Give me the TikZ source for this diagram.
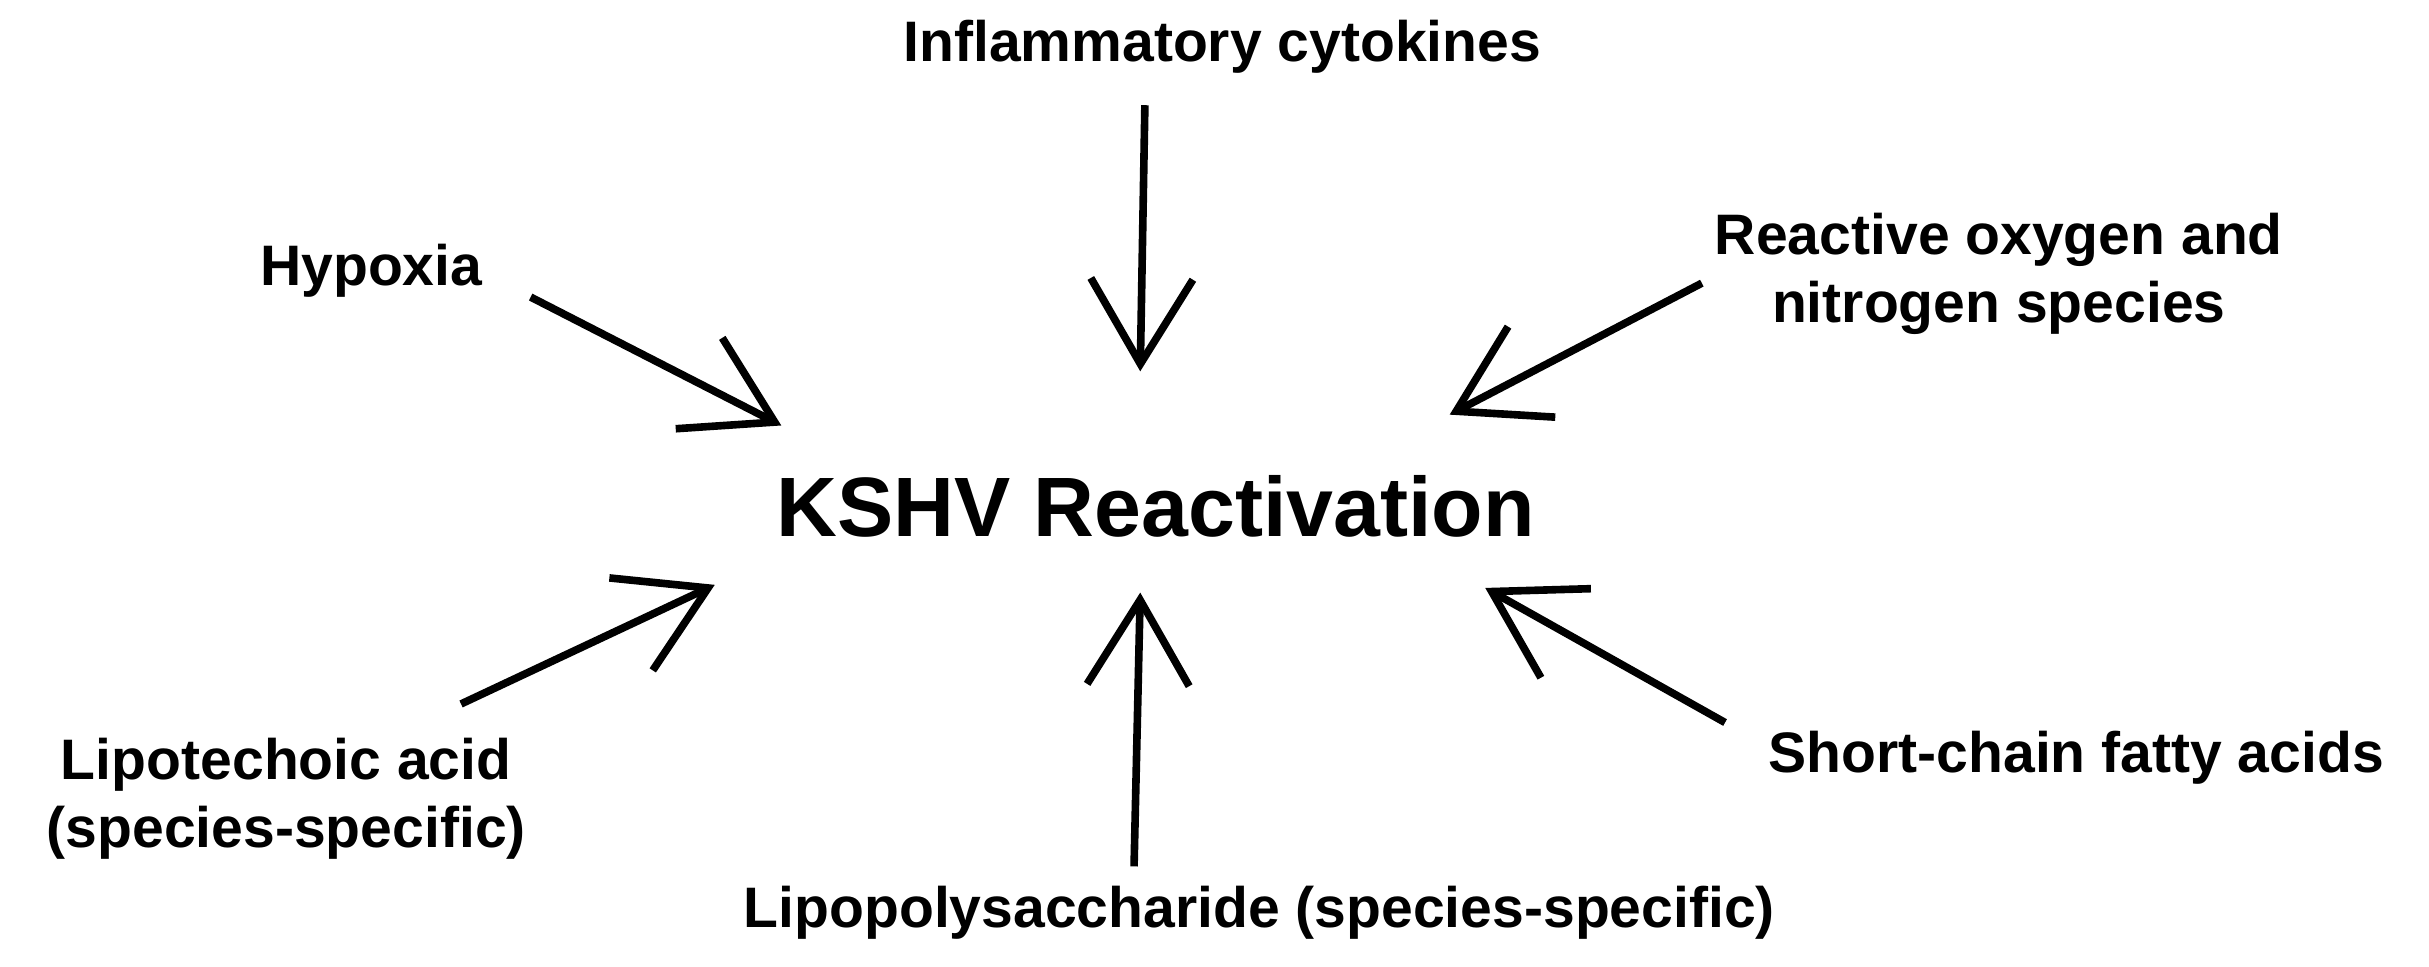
\documentclass[tikz,border=0pt]{standalone}
\usepackage{fontspec}
\setmainfont{Liberation Sans}
\usetikzlibrary{arrows.meta}
\tikzset{
    lbl/.style={font=\bfseries\fontsize{10.5}{12.5}\selectfont, align=center, inner sep=0pt},
    big/.style={font=\bfseries\fontsize{15.5}{18}\selectfont, inner sep=0pt},
    push/.style={line width=1.4pt, -{Straight Barb[length=5.5mm, width=6.6mm, line width=1.4pt]}}
}
\begin{document}
\begin{tikzpicture}
    \useasboundingbox (0,0) rectangle (15.7,6.25);
    
    \node[big] (kshv) at (7.47,2.98) {KSHV Reactivation};
    
    \node[lbl] (cyto) at (7.90,5.95) {Inflammatory cytokines};
    \node[lbl] (hypo) at (2.40,4.50) {Hypoxia};
    \node[lbl] (ros) at (12.92,4.48) {Reactive oxygen and\\nitrogen species};
    \node[lbl] (lta) at (1.85,1.09) {Lipotechoic acid\\(species-specific)};
    \node[lbl] (scfa) at (13.42,1.35) {Short-chain fatty acids};
    \node[lbl] (lps) at (8.14,0.35) {Lipopolysaccharide (species-specific)};
    
    \coordinate (cyto s) at (7.40,5.57);
    \coordinate (cyto t) at (7.37,3.85);
    \coordinate (hypo s) at (3.43,4.33);
    \coordinate (hypo t) at (5.05,3.50);
    \coordinate (ros s) at (11.00,4.42);
    \coordinate (ros t) at (9.37,3.57);
    \coordinate (lta s) at (2.98,1.70);
    \coordinate (lta t) at (4.62,2.47);
    \coordinate (lps s) at (7.33,0.65);
    \coordinate (lps t) at (7.37,2.42);
    \coordinate (scfa s) at (11.15,1.58);
    \coordinate (scfa t) at (9.60,2.45);
    
    \draw[push] (cyto s) -- (cyto t);
    \draw[push] (hypo s) -- (hypo t);
    \draw[push] (ros s) -- (ros t);
    \draw[push] (lta s) -- (lta t);
    \draw[push] (lps s) -- (lps t);
    \draw[push] (scfa s) -- (scfa t);
    
\end{tikzpicture}
\end{document}
